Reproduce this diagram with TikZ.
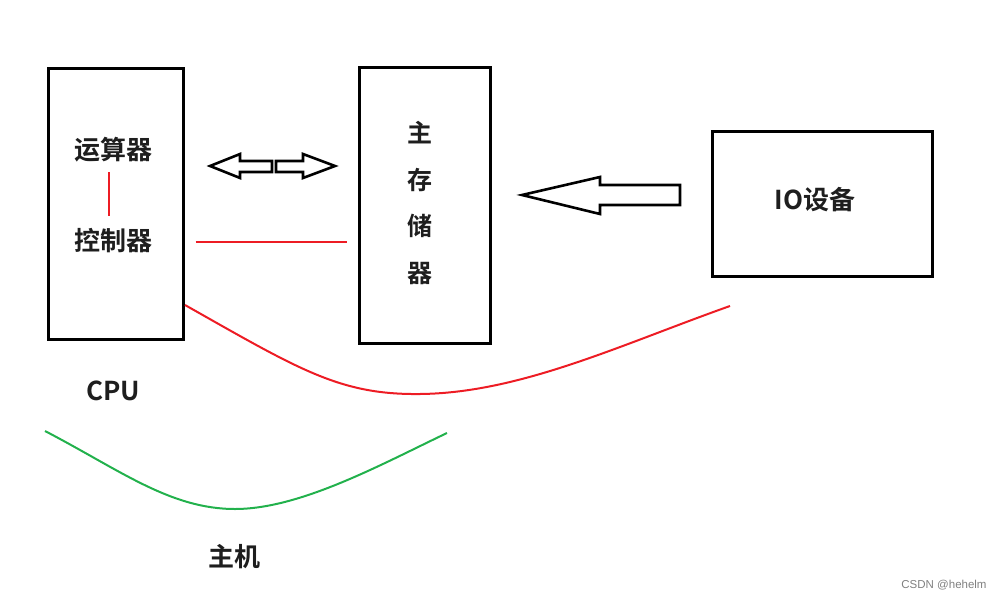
\documentclass[tikz,border=0pt]{standalone}
\usepackage{fontspec}
\setmainfont{Noto Sans CJK SC Bold}
\newfontfamily\watermarkfont{Liberation Sans}
\usepackage{tikz}
\usetikzlibrary{positioning, calc}
\definecolor{paintred}{RGB}{237,28,36}
\definecolor{paintgreen}{RGB}{34,177,76}
\definecolor{inkgray}{RGB}{30,30,30}

\tikzset{
  unitbox/.style={draw, line width=3pt, inner sep=0pt},
  label cn/.style={font=\fontsize{26}{30}\selectfont, text=inkgray, inner sep=1pt},
  redlink/.style={paintred, line width=2pt},
  fatarrow/.style={draw, line width=2.6pt, fill=white, line join=miter},
}

\begin{document}
\begin{tikzpicture}[x=1pt, y=-1pt]
  \useasboundingbox (0,0) rectangle (995,599);
  % boxes
  \node[unitbox, minimum width=135pt, minimum height=270pt] (cpu) at (115.5,204) {};
  \node[unitbox, minimum width=131pt, minimum height=275pt] (mem) at (424.5,205.5) {};
  \node[unitbox, minimum width=220pt, minimum height=145pt] (io) at (822,203.5) {};
  % texts
  \node[label cn] (alu) at (113,150) {运算器};
  \node[label cn] (ctrl) at (113,241) {控制器};
  \node[label cn, align=center, font=\fontsize{25}{46.5}\selectfont] (memtext) at (420,203) {主\\存\\储\\器};
  \node[label cn] (iotext) at (815,200) {IO设备};
  \node[label cn] (cputext) at (113,391) {CPU};
  \node[label cn] (hosttext) at (234,557) {主机};
  \node[font=\watermarkfont\fontsize{11.5}{13}\selectfont, text=gray] (mark) at (944,585) {CSDN @hehelm};
  % red links
  \draw[redlink] (109,172) -- (109,216);
  \draw[redlink, shorten <=11pt, shorten >=11pt] (cpu.east |- 0,242) -- (mem.west |- 0,242);
  % double arrow between cpu and memory
  \draw[fatarrow] (210,166) -- (240,154) -- (240,161) -- (272,161) -- (272,172)
    -- (240,172) -- (240,178) -- cycle;
  \draw[fatarrow] (335,166) -- (303,154) -- (303,161) -- (276,161) -- (276,172)
    -- (303,172) -- (303,178) -- cycle;
  % io to memory
  \draw[fatarrow] (522,195) -- (600,177) -- (600,185) -- (680,185) -- (680,205)
    -- (600,205) -- (600,214) -- cycle;
  % braces
  \draw[paintred, line width=2pt] (185,305) .. controls (300,370) and (340,395) .. (420,394)
    .. controls (520,393) and (620,345) .. (730,306);
  \draw[paintgreen, line width=2pt] (45,431) .. controls (120,470) and (170,509) .. (235,509)
    .. controls (300,509) and (380,465) .. (447,433);
\end{tikzpicture}
\end{document}
